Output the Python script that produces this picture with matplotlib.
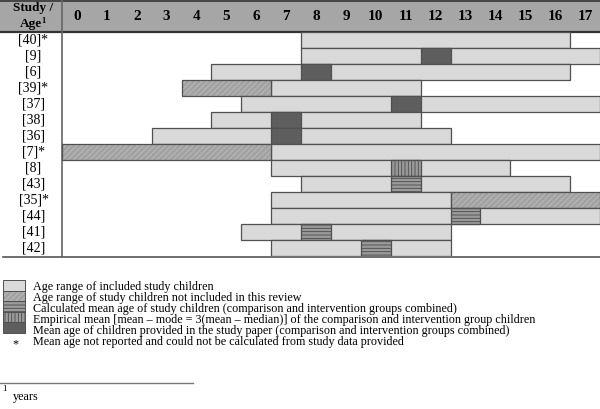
import matplotlib
matplotlib.use("Agg")
import matplotlib.pyplot as plt
from matplotlib.patches import Rectangle
from matplotlib.transforms import blended_transform_factory

plt.rcParams['font.family'] = ['Liberation Serif', 'DejaVu Serif']
plt.rcParams['hatch.linewidth'] = 0.6

# data (ages are inclusive, one column per year)
studies = ['[40]*', '[9]', '[6]', '[39]*', '[37]', '[38]', '[36]', '[7]*',
           '[8]', '[43]', '[35]*', '[44]', '[41]', '[42]']
incl_min = [8, 8, 5, 7, 6, 5, 3, 7, 7, 8, 7, 7, 6, 7]
incl_max = [16, 17, 16, 11, 17, 11, 12, 17, 14, 16, 12, 17, 12, 12]
excl_ranges = {'[39]*': (4, 6), '[7]*': (0, 6), '[35]*': (13, 17)}
mean_paper = {'[9]': 12, '[6]': 8, '[37]': 11, '[38]': 7, '[36]': 7}
mean_calc = {'[43]': 11, '[44]': 13, '[41]': 8, '[42]': 10}
mean_emp = {'[8]': 11}
ages = list(range(18))

legend_labels = [
    'Age range of included study children',
    'Age range of study children not included in this review',
    'Calculated mean age of study children (comparison and intervention groups combined)',
    'Empirical mean [mean \u2013 mode = 3(mean \u2013 median)] of the comparison and intervention group children',
    'Mean age of children provided in the study paper (comparison and intervention groups combined)',
]
legend_kinds = ['incl', 'excl', 'calc', 'emp', 'paper']

W, H = 600, 409
LIGHT = '#d9d9d9'
EDGE = '#505050'
styles = {
    'incl': dict(facecolor=LIGHT, hatch=None, hcol=None),
    'excl': dict(facecolor='#a2a2a2', hatch='//////', hcol='#bdbdbd'),
    'calc': dict(facecolor='#9a9a9a', hatch='-----', hcol='#4a4a4a'),
    'emp': dict(facecolor='#9a9a9a', hatch='|||||', hcol='#4a4a4a'),
    'paper': dict(facecolor='#5e5e5e', hatch=None, hcol=None),
}


def draw_cell(axis, x, y, w, h, kind, lw=0.9):
    st = styles[kind]
    if st['hatch']:
        axis.add_patch(Rectangle((x, y), w, h, facecolor=st['facecolor'],
                                 edgecolor=st['hcol'], hatch=st['hatch'], lw=0))
        axis.add_patch(Rectangle((x, y), w, h, fill=False, edgecolor=EDGE, lw=lw))
    else:
        axis.add_patch(Rectangle((x, y), w, h, facecolor=st['facecolor'],
                                 edgecolor=EDGE, lw=lw))


fig = plt.figure(figsize=(6, 4.09), dpi=100)

# decoration layer in pixel units
deco = fig.add_axes([0, 0, 1, 1])
deco.set_xlim(0, W)
deco.set_ylim(H, 0)
deco.axis('off')
deco.add_patch(Rectangle((0, 0), W, 32, facecolor='#a6a6a6', lw=0))
deco.plot([0, W], [0.5, 0.5], color='#333333', lw=1.2)
deco.plot([0, W], [32, 32], color='#333333', lw=1.6)
deco.plot([62, 62], [0, 256], color='#666666', lw=1.2)
deco.plot([3, W], [256.5, 256.5], color='#555555', lw=1.2)
deco.text(33, 8.5, 'Study /', ha='center', va='center', fontsize=9.5, fontweight='bold')
deco.text(31, 24.5, 'Age', ha='center', va='center', fontsize=9.5, fontweight='bold')
deco.text(41, 21, '1', ha='left', va='center', fontsize=6, fontweight='bold')

# legend
box_h = 10.6
for i, lab in enumerate(legend_labels):
    y0 = 280 + i * box_h
    draw_cell(deco, 3, y0, 22, box_h, legend_kinds[i], lw=0.7)
    deco.text(33, 287 + i * 11, lab, ha='left', va='center', fontsize=8.75)
deco.text(15, 344, '*', ha='center', va='center', fontsize=8.75)
deco.text(33, 342, 'Mean age not reported and could not be calculated from study data provided',
          ha='left', va='center', fontsize=8.75)

# footnote
deco.plot([0, 193], [383, 383], color='#777777', lw=1.0)
deco.text(2, 389, '1', ha='left', va='center', fontsize=6.5)
deco.text(13, 397, 'years', ha='left', va='center', fontsize=8.75)

# main table of bars in age units
ax = fig.add_axes([62 / W, 1 - 256 / H, 538 / W, 224 / H])
ax.set_xlim(0, 18)
ax.set_ylim(len(studies), 0)
ax.axis('off')
ax.patch.set_alpha(0)

for a in ages:
    ax.text(a + 0.5, -1, str(a), ha='center', va='center', fontsize=11,
            fontweight='bold', clip_on=False)

lab_tr = blended_transform_factory(fig.transFigure, ax.transData)
for r, s in enumerate(studies):
    ax.text(33.5 / W, r + 0.5, s, transform=lab_tr, ha='center', va='center',
            fontsize=10)
    draw_cell(ax, incl_min[r], r, incl_max[r] + 1 - incl_min[r], 1, 'incl')
    if s in excl_ranges:
        lo, hi = excl_ranges[s]
        draw_cell(ax, lo, r, hi + 1 - lo, 1, 'excl')
    if s in mean_paper:
        draw_cell(ax, mean_paper[s], r, 1, 1, 'paper')
    if s in mean_calc:
        draw_cell(ax, mean_calc[s], r, 1, 1, 'calc')
    if s in mean_emp:
        draw_cell(ax, mean_emp[s], r, 1, 1, 'emp')

fig.savefig('out.png', dpi=100)
